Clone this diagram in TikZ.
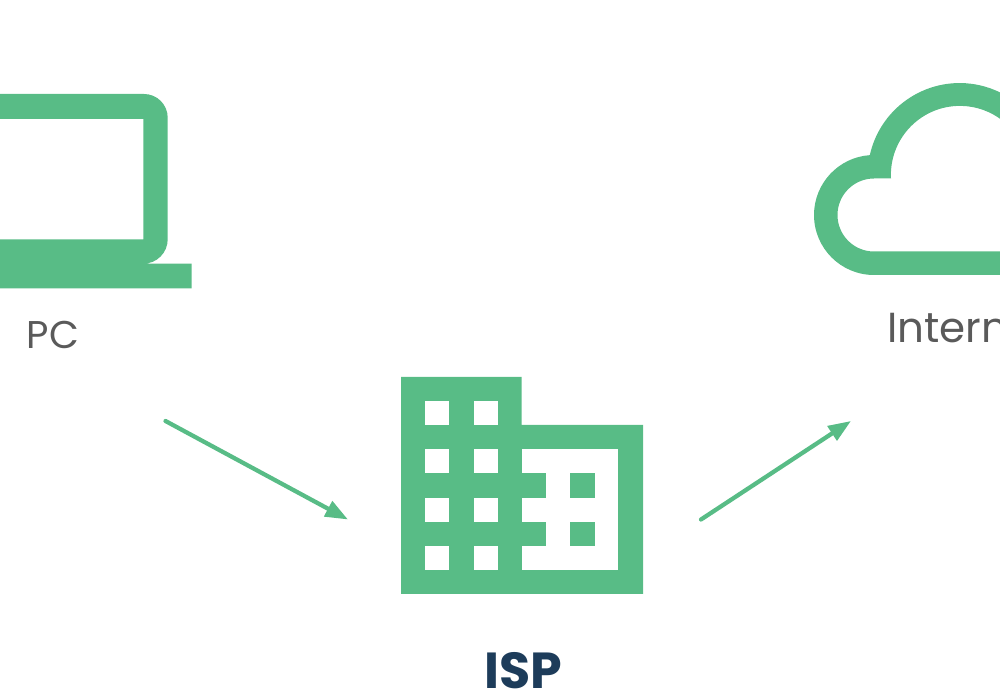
\documentclass[tikz,border=0pt]{standalone}
\usepackage{fontspec}
\setmainfont{Poppins}
\usetikzlibrary{arrows.meta}
\definecolor{iconGreen}{HTML}{58BC86}
\definecolor{labelGrey}{HTML}{5A5A5A}
\definecolor{ispNavy}{HTML}{1D3C5A}
\tikzset{
  icon/.style={fill=iconGreen,draw=none},
  hole/.style={fill=white,draw=none},
  flow/.style={draw=iconGreen,line width=3.2pt,line cap=round,-{Triangle[length=17pt,width=12.5pt]}},
  lightlabel/.style={text=labelGrey,font=\fontsize{29}{32}\selectfont,inner sep=0pt,anchor=base},
  boldlabel/.style={text=ispNavy,font=\fontsize{38}{42}\selectfont\bfseries,inner sep=0pt,anchor=base}
}
\newcommand{\win}[2]{\fill[hole] (#1,#2) rectangle ++(24.2,-24.2);}
\begin{document}
\begin{tikzpicture}[x=0.75pt,y=0.75pt]
\useasboundingbox (0,0) rectangle (1000,700);
\clip (0,0) rectangle (1000,700);
% laptop
\fill[icon,even odd rule]
  (-40,606) -- (144,606) arc[start angle=90,end angle=0,radius=23.7] -- (167.7,460.7)
  arc[start angle=0,end angle=-90,radius=24.4] -- (191.7,436.3) -- (191.7,411.7) -- (-40,411.7) -- cycle
  (-40,581) -- (143.3,581) -- (143.3,460.7) -- (-40,460.7) -- cycle;
\node[lightlabel] (pc) at (53,351) {PC};
% cloud
\fill[icon,even odd rule]
  (1010,425) -- (874,425) arc[start angle=270,end angle=94,radius=60]
  arc[start angle=167.5,end angle=20,radius=92] -- (1010,425) -- cycle
  (1010,448.5) -- (874,448.5) arc[start angle=270,end angle=90,radius=36.5]
  -- (891,521.5) arc[start angle=183,end angle=20,radius=69] -- (1010,448.5) -- cycle;
\node[lightlabel,anchor=base west,font=\fontsize{31.5}{34}\selectfont] (internet) at (887,357) {Internet};
% building
\fill[icon] (401,323) -- (521.7,323) -- (521.7,275) -- (643,275) -- (643,106) -- (401,106) -- cycle;
\foreach \wx in {425,473.7} \foreach \wy in {299,250.7,202.3,154.3} {\win{\wx}{\wy}}
\fill[hole] (521.7,250.7) rectangle (618.3,130.3);
\fill[icon] (521.7,226.7) rectangle (546,202.3);
\fill[icon] (521.7,178.3) rectangle (546,154.3);
\fill[icon] (570,226.7) rectangle (594.7,202.3);
\fill[icon] (570,178.3) rectangle (594.7,154.3);
\node[boldlabel] (isp) at (523,12) {ISP};
% connectors
\coordinate (a1) at (165.5,279);
\coordinate (a2) at (348,180.5);
\coordinate (b1) at (701,180.5);
\coordinate (b2) at (851,279);
\draw[flow] (a1) -- (a2);
\draw[flow] (b1) -- (b2);
\end{tikzpicture}
\end{document}
